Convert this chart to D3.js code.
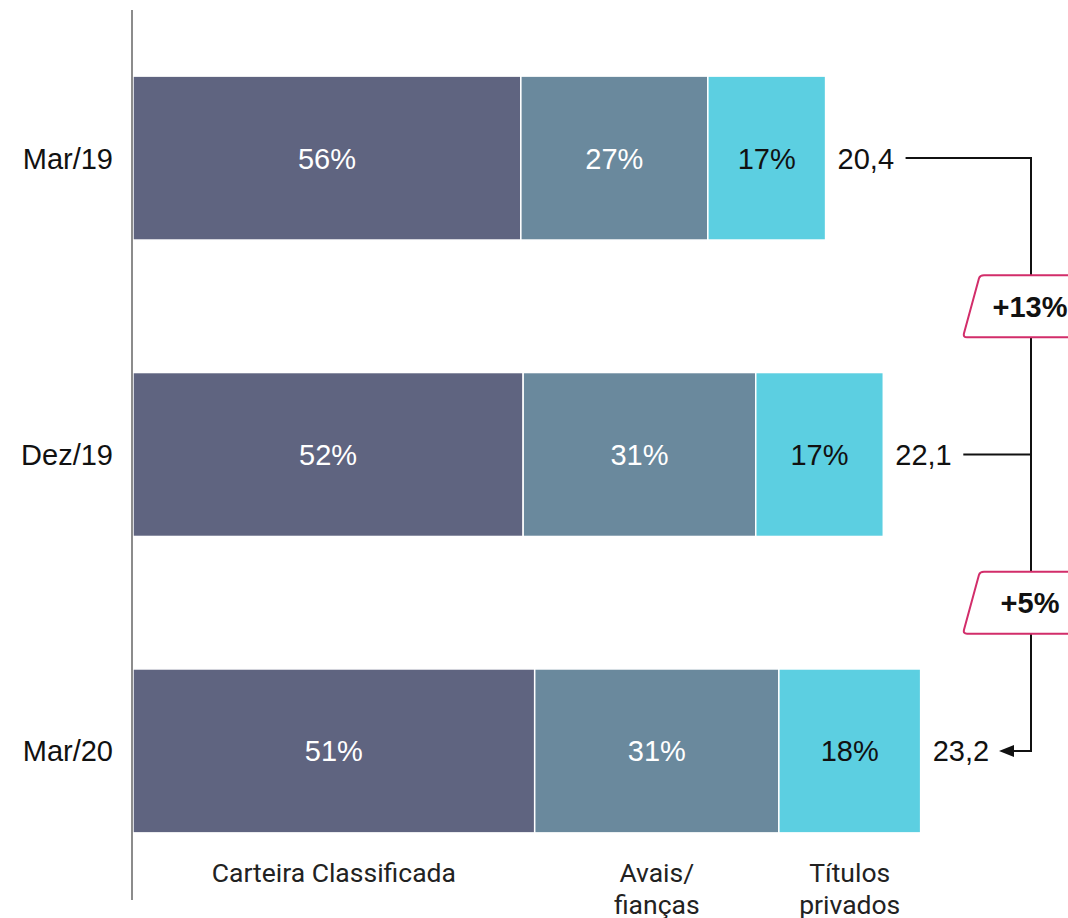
<!DOCTYPE html>
<html>
<head>
<meta charset="utf-8">
<script src="https://cdn.jsdelivr.net/npm/d3@7"></script>
<style>
  html, body { margin: 0; padding: 0; background: #fff; }
  svg { display: block; }
</style>
</head>
<body>
<svg id="chart" width="1068" height="918"></svg>
<script>
// Periods and portfolio totals (R$ bi)
const periods = ["Mar/19", "Dez/19", "Mar/20"];
const totals = [20.4, 22.1, 23.2];
const totalLabels = ["20,4", "22,1", "23,2"];

// Share of each component in every period (%)
const seriesNames = ["Carteira Classificada", "Avais/fianças", "Títulos privados"];
const seriesLegend = [["Carteira Classificada"], ["Avais/", "fianças"], ["Títulos", "privados"]];
const carteira = [56, 52, 51];
const avais = [27, 31, 31];
const titulos = [17, 17, 18];

// Growth tags between periods
const growthLabels = ["+13%", "+5%"];

const colors = ["#5f6480", "#6a899d", "#5ccfe1"];
const textColors = ["#ffffff", "#ffffff", "#111111"];
const FS = 29;

const svg = d3.select("#chart");

const x = d3.scaleLinear().domain([0, 23.2]).range([133, 133 + 23.2 * 33.95]);
const y = d3.scaleBand().domain(periods).range([10, 899]).paddingInner(0.447).paddingOuter(0.223);

const shares = [carteira, avais, titulos];
const rows = periods.map((p, i) => {
  let acc = 0;
  return shares.map((s, k) => {
    const v = totals[i] * s[i] / 100;
    const seg = { period: p, k, pct: s[i], x0: acc, x1: acc + v };
    acc += v;
    return seg;
  });
});

// Bars
const g = svg.append("g");
rows.forEach(row => {
  g.selectAll(null).data(row).enter().append("rect")
    .attr("x", d => x(d.x0))
    .attr("y", d => y(d.period))
    .attr("width", d => x(d.x1) - x(d.x0))
    .attr("height", y.bandwidth())
    .attr("fill", d => colors[d.k])
    .attr("stroke", "#fff")
    .attr("stroke-width", 1.5);
  g.selectAll(null).data(row).enter().append("text")
    .attr("x", d => (x(d.x0) + x(d.x1)) / 2)
    .attr("y", d => y(d.period) + y.bandwidth() / 2)
    .attr("dy", "0.36em")
    .attr("text-anchor", "middle")
    .attr("font-family", "Liberation Sans, Arial, sans-serif")
    .attr("font-size", FS)
    .attr("fill", d => textColors[d.k])
    .text(d => d.pct + "%");
});

// Category axis
svg.append("line")
  .attr("x1", 132).attr("x2", 132)
  .attr("y1", 10).attr("y2", 900)
  .attr("stroke", "#8c8c8c").attr("stroke-width", 2);

svg.selectAll(".cat").data(periods).enter().append("text")
  .attr("x", 113)
  .attr("y", d => y(d) + y.bandwidth() / 2)
  .attr("dy", "0.36em")
  .attr("text-anchor", "end")
  .attr("font-family", "Liberation Sans, Arial, sans-serif")
  .attr("font-size", FS)
  .attr("fill", "#111")
  .text(d => d);

// Totals at bar ends
svg.selectAll(".tot").data(periods).enter().append("text")
  .attr("x", (d, i) => x(totals[i]) + 12)
  .attr("y", d => y(d) + y.bandwidth() / 2)
  .attr("dy", "0.36em")
  .attr("font-family", "Liberation Sans, Arial, sans-serif")
  .attr("font-size", FS)
  .attr("fill", "#111")
  .text((d, i) => totalLabels[i]);

// Legend below the last bar, centred on its segments
const last = rows[rows.length - 1];
last.forEach(seg => {
  const cxs = (x(seg.x0) + x(seg.x1)) / 2;
  const t = svg.append("text")
    .attr("x", cxs)
    .attr("y", 882)
    .attr("text-anchor", "middle")
    .attr("font-family", "Roboto, sans-serif")
    .attr("font-size", 26.5)
    .attr("fill", "#222");
  seriesLegend[seg.k].forEach((line, j) => {
    t.append("tspan")
      .attr("x", cxs)
      .attr("dy", j === 0 ? 0 : 32)
      .text(line);
  });
});

// Growth connector
const cx = 1031;
const mid = periods.map(p => y(p) + y.bandwidth() / 2);
const conn = svg.append("g").attr("stroke", "#111").attr("stroke-width", 2).attr("fill", "none");
conn.append("path")
  .attr("d", `M${x(totals[0]) + 80},${mid[0]} H${cx} V${mid[2]} H1012`);
conn.append("line")
  .attr("x1", x(totals[1]) + 80).attr("x2", cx)
  .attr("y1", mid[1]).attr("y2", mid[1]);
svg.append("path")
  .attr("d", `M999,${mid[2]} L1014,${mid[2] - 6} L1014,${mid[2] + 6} Z`)
  .attr("fill", "#111");

// Growth tags (skewed boxes)
growthLabels.forEach((lbl, i) => {
  const cy = (mid[i] + mid[i + 1]) / 2;
  const h = 62, top = cy - h / 2, bot = cy + h / 2;
  const tg = svg.append("g");
  tg.append("path")
    .attr("d", `M${984},${top} H1084 Q1088,${top} 1087,${top + 4} L1072,${bot - 3} Q1071,${bot} 1067,${bot} H967 Q963,${bot} 964,${bot - 4} L979,${top + 3} Q980,${top} 984,${top} Z`)
    .attr("fill", "#fff")
    .attr("stroke", "#d22d6a")
    .attr("stroke-width", 2);
  tg.append("text")
    .attr("x", 1030)
    .attr("y", cy)
    .attr("dy", "0.36em")
    .attr("text-anchor", "middle")
    .attr("font-family", "Liberation Sans, Arial, sans-serif")
    .attr("font-weight", "bold")
    .attr("font-size", FS)
    .attr("fill", "#111")
    .text(lbl);
});
</script>
</body>
</html>
